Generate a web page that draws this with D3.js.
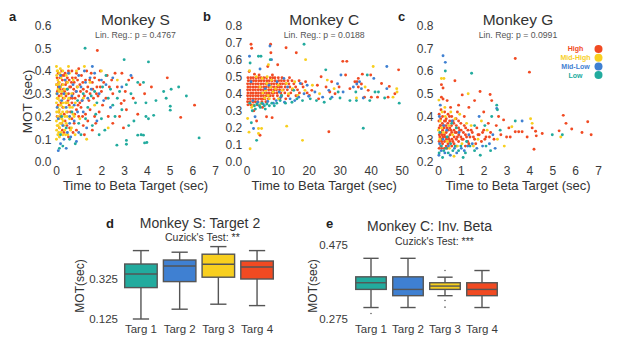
<!DOCTYPE html>
<html>
<head>
<meta charset="utf-8">
<script src="https://cdn.jsdelivr.net/npm/d3@7"></script>
<style>
  body { margin: 0; background: #fff; }
  svg { display: block; font-family: "Liberation Sans", Arial, sans-serif; }
  .tick text { fill: #3a3a3a; }
</style>
</head>
<body>
<div id="chart"></div>
<script>
// category colours (High / Mid-High / Mid-Low / Low beta)
const levels = ["High", "Mid-High", "Mid-Low", "Low"];
const levelColors = ["#f14a22", "#f8cf1f", "#3f80d2", "#22ab9e"];

// ---- panel a: Monkey S, [time to beta target, MOT] ----
const sHigh = [[0.05,0.37],[0.12,0.35],[0.2,0.33],[0.28,0.36],[0.35,0.38],[0.42,0.34],[0.5,0.32],[0.58,0.36],[0.65,0.33],[0.72,0.37],[0.8,0.35],[0.88,0.31],[0.95,0.36],[1.05,0.34],[1.12,0.38],[1.2,0.32],[1.3,0.36],[1.4,0.33],[1.5,0.3],[1.6,0.35],[1.7,0.37],[1.8,0.33],[1.9,0.36],[2.0,0.31],[2.1,0.35],[2.25,0.38],[2.35,0.33],[0.06,0.31],[0.14,0.29],[0.24,0.3],[0.33,0.32],[0.44,0.29],[0.55,0.3],[0.62,0.28],[0.75,0.3],[0.84,0.28],[1.0,0.29],[1.15,0.27],[1.25,0.29],[1.45,0.27],[1.65,0.28],[1.85,0.29],[0.1,0.39],[0.25,0.4],[0.4,0.39],[0.55,0.4],[0.7,0.4],[0.9,0.39],[1.0,0.41],[1.35,0.4],[1.55,0.39],[0.03,0.34],[0.18,0.37],[0.5,0.37],[0.1,0.25],[0.3,0.24],[0.5,0.22],[0.7,0.26],[0.9,0.23],[1.1,0.24],[1.3,0.21],[1.5,0.23],[1.7,0.2],[1.9,0.22],[0.2,0.2],[0.4,0.18],[0.6,0.15],[0.8,0.17],[1.0,0.2],[1.2,0.16],[1.4,0.18],[1.6,0.14],[0.15,0.15],[0.35,0.13],[0.55,0.11],[0.9,0.14],[1.25,0.12],[0.05,0.2],[0.25,0.17],[0.7,0.19],[1.05,0.26],[1.75,0.17],[2.05,0.25],[2.3,0.2],[2.5,0.17],[1.82,0.49],[4.9,0.37],[6.1,0.25],[5.49,0.196],[2.87,0.257],[3.0,0.27],[2.97,0.15],[3.2,0.36],[3.35,0.37],[2.6,0.39],[2.7,0.33],[3.6,0.21],[3.9,0.30],[2.5,0.3],[2.8,0.2],[3.1,0.23],[3.4,0.28],[2.45,0.36],[2.2,0.28],[1.95,0.4],[2.9,0.39],[3.7,0.34],[4.2,0.33],[3.05,0.31],
  [0.08,0.28],[0.18,0.32],[0.27,0.34],[0.32,0.28],[0.38,0.31],[0.47,0.35],[0.53,0.27],[0.6,0.33],[0.68,0.35],[0.78,0.32],[0.86,0.37],[0.93,0.33],[1.08,0.31],[1.18,0.35],[0.13,0.22],[0.22,0.26],[0.36,0.21],[0.45,0.26],[0.64,0.22],[0.82,0.21],[0.97,0.25],[1.17,0.2],[0.28,0.14],[0.48,0.16],[0.75,0.13],[0.1,0.33],[0.4,0.36],[0.72,0.28],[1.35,0.31],[1.62,0.32],[1.48,0.36],[1.78,0.3],[1.95,0.33],[0.58,0.25],[0.26,0.38]];
const sMidHigh = [[0.02,0.1],[0.03,0.14],[0.02,0.18],[0.03,0.22],[0.02,0.26],[0.03,0.3],[0.02,0.34],[0.03,0.38],[0.02,0.42],[0.08,0.12],[0.09,0.16],[0.08,0.2],[0.07,0.24],[0.08,0.28],[0.09,0.32],[0.08,0.36],[0.07,0.4],[0.15,0.11],[0.16,0.15],[0.14,0.19],[0.15,0.23],[0.16,0.27],[0.14,0.31],[0.15,0.35],[0.16,0.39],[0.22,0.13],[0.23,0.17],[0.21,0.21],[0.22,0.25],[0.23,0.29],[0.21,0.33],[0.22,0.37],[0.3,0.12],[0.31,0.18],[0.29,0.22],[0.3,0.26],[0.31,0.34],[0.3,0.4],[0.38,0.14],[0.39,0.2],[0.37,0.28],[0.38,0.32],[0.45,0.17],[0.46,0.22],[0.44,0.3],[0.45,0.38],[0.52,0.12],[0.53,0.26],[0.51,0.35],[0.6,0.19],[0.61,0.24],[0.59,0.39],[0.68,0.15],[0.69,0.3],[0.75,0.21],[0.76,0.36],[0.85,0.26],[0.84,0.12],[0.95,0.33],[1.05,0.19],[1.2,0.28],[1.25,0.42],[1.35,0.1],[1.5,0.35],[1.7,0.25],[2.0,0.4],[2.7,0.36],[2.3,0.15],[0.55,0.42],[0.9,0.4],
  [0.05,0.16],[0.05,0.28],[0.11,0.22],[0.11,0.34],[0.18,0.17],[0.18,0.25],[0.26,0.19],[0.26,0.31],[0.34,0.24],[0.34,0.16],[0.42,0.26],[0.42,0.12],[0.49,0.2],[0.56,0.28],[0.64,0.14],[0.72,0.24],[0.8,0.2],[0.05,0.4],[0.12,0.13],[0.19,0.41]];
const sMidLow = [[0.1,0.05],[0.2,0.08],[0.35,0.1],[0.5,0.13],[0.3,0.16],[0.1,0.19],[0.6,0.2],[0.8,0.18],[0.45,0.24],[0.25,0.27],[0.7,0.29],[0.9,0.31],[1.1,0.33],[1.3,0.35],[1.5,0.37],[1.7,0.39],[1.6,0.42],[0.4,0.36],[0.15,0.33],[0.55,0.39],[1.0,0.38],[0.8,0.25],[1.2,0.22],[1.4,0.28],[1.9,0.3],[2.2,0.34],[2.5,0.37],[2.1,0.27],[1.8,0.18],[1.0,0.13],[0.65,0.11],[1.35,0.15],[0.05,0.24],[0.05,0.3],[0.2,0.38],[0.95,0.22],[1.55,0.32],[2.4,0.24],[1.15,0.27],[0.35,0.3],[0.75,0.34],[0.6,0.17],[2.9,0.33],[0.9,0.09],[0.45,0.06],[1.25,0.4],[2.0,0.36],[3.3,0.38]];
const sLow = [[1.28,0.50],[3.0,0.45],[4.07,0.44],[5.07,0.32],[5.4,0.33],[5.74,0.29],[6.3,0.106],[5.03,0.245],[5.03,0.228],[4.74,0.31],[4.85,0.28],[4.4,0.27],[3.96,0.26],[4.07,0.19],[3.96,0.2],[4.3,0.205],[3.6,0.118],[3.75,0.12],[3.85,0.118],[3.9,0.084],[4.0,0.086],[3.1,0.095],[3.1,0.078],[2.68,0.074],[3.85,0.35],[3.6,0.35],[3.43,0.18],[2.2,0.38],[2.05,0.33],[1.7,0.31],[1.55,0.29],[1.8,0.26],[2.3,0.28],[2.5,0.25],[2.4,0.32],[2.8,0.31],[3.1,0.34],[3.3,0.3],[2.6,0.2],[2.9,0.23],[2.15,0.14],[1.9,0.12],[1.6,0.16],[1.3,0.19],[1.1,0.12],[0.85,0.08],[0.6,0.1],[0.3,0.07],[0.15,0.06],[0.2,0.12],[0.45,0.15],[0.7,0.22],[0.95,0.27],[1.2,0.3],[1.4,0.24],[0.25,0.2],[0.5,0.32],[1.0,0.17],[1.75,0.21],[2.0,0.19],[3.2,0.16],[2.7,0.28],[3.5,0.26]];

// ---- panel b: Monkey C ----
// dense red band, one row per MOT value: [MOT, times]
const cHighRows = [
  [0.494, [0.4,1.3,2.1,3.0,3.8,4.6,5.5,6.4,7.6,8.4,9.1,10.2,11.4,13.8]],
  [0.476, [0.5,1.3,2.2,3.0,3.9,4.7,5.6,6.5,7.3,8.2,9.2,10.3,11.2,12.1,13.3,14.6,16.9]],
  [0.458, [0.3,1.2,2.0,2.9,3.7,4.6,5.4,6.3,7.1,8.0,8.8,9.7,10.8,11.6,12.5,13.6,15.2,17.8]],
  [0.440, [0.4,1.2,2.1,2.9,3.8,4.6,5.5,6.3,7.2,8.0,8.9,9.9,10.6,11.2,12.4,13.9,15.8,18.2]],
  [0.423, [0.3,1.1,2.0,2.8,3.7,4.5,5.4,6.2,7.1,7.9,8.8,9.6,10.6,11.8,13.1,14.7,16.4]],
  [0.405, [0.4,1.3,2.1,3.0,3.8,4.7,5.5,6.4,7.2,8.1,8.9,9.8,11.0,12.3,14.2,17.0,19.5]],
  [0.388, [0.3,1.2,2.0,2.9,3.7,4.6,5.4,6.3,7.0,7.6,8.5,9.9,11.3,13.4,15.9]],
  [0.370, [0.4,1.2,2.1,2.9,3.8,4.6,5.3,5.9,7.0,8.8,10.7,12.6]],
  [0.353, [0.3,1.1,2.0,2.8,3.6,4.9,6.2]],
  [0.335, [0.4,1.3,2.2,3.4]]
];
const cHighSparse = [[1.4,0.69],[1.6,0.667],[7.7,0.69],[7.8,0.64],[12.7,0.67],[16,0.64],[10,0.57],[6.8,0.56],[31,0.59],[32.3,0.59],[49,0.54],[31.9,0.51],[36,0.49],[37.3,0.515],[40,0.51],[34.9,0.47],[35.6,0.47],[37,0.457],[29.8,0.44],[36,0.44],[46,0.443],[33.3,0.43],[38,0.38],[40.2,0.38],[42.2,0.38],[45.6,0.38],[3.2,0.24],[4.3,0.157],[6.4,0.265],[8.2,0.26],[26.5,0.177],[0.8,0.53],[2.5,0.515],[4.0,0.51],[8.3,0.51],[19,0.47],[21,0.42],[22.8,0.45],[24,0.5],[25.6,0.44],[27.4,0.47],[28.5,0.4],[20.2,0.39],[23.2,0.37],[26.8,0.41],[43.5,0.46],[47.8,0.4],[39.2,0.42],[2.3,0.3],[5.1,0.32]];
const cMidHigh = [[5.2,0.405],[6.1,0.42],[6.9,0.39],[7.7,0.44],[8.5,0.41],[5.8,0.375],[7.3,0.37],[9.3,0.43],[6.5,0.46],[8.0,0.48],[10.2,0.45],[11.5,0.42],[12.8,0.46],[13.5,0.4],[14.8,0.43],[4.3,0.44],[3.1,0.5],[5.0,0.49],[6.6,0.5],[0.9,0.535],[7.0,0.57],[19,0.6],[10.3,0.37],[15.5,0.47],[16.5,0.39],[18.8,0.42],[21.2,0.45],[23.5,0.4],[26,0.48],[28.2,0.43],[35.4,0.375],[38.2,0.44],[40.8,0.56],[47.2,0.38],[48.4,0.43],[48.5,0.41],[0.3,0.255],[0.75,0.175],[3.8,0.196],[4.8,0.196],[3.8,0.167],[12.9,0.21],[18,0.127],[1.1,0.078],[2.0,0.33],[4.5,0.34],[1.6,0.32]];
const cMidLow = [[0.9,0.62],[8.0,0.60],[4.3,0.545],[7.5,0.68],[2.2,0.196],[2.7,0.265],[2.0,0.36],[3.6,0.35],[5.3,0.34],[6.8,0.355],[8.6,0.345],[9.5,0.36],[11.0,0.38],[12.2,0.35],[14.0,0.37],[15.5,0.36],[16.8,0.38],[18.5,0.4],[20,0.385],[22,0.41],[24.5,0.38],[26.5,0.42],[29.3,0.459],[30.4,0.51],[31.1,0.41],[34.4,0.44],[35.5,0.457],[36.4,0.47],[37,0.43],[37.6,0.375],[41,0.49],[45.2,0.43],[45.2,0.56],[7.2,0.45],[9.8,0.47],[13.2,0.44],[17.3,0.46],[10.5,0.41],[6.0,0.43],[12.0,0.49],[1.4,0.47],[19.5,0.45],[27.5,0.38]];
const cLow = [[3.8,0.62],[4.6,0.62],[1.1,0.58],[18.5,0.69],[25.5,0.54],[37.6,0.198],[3.2,0.127],[1.5,0.23],[1.0,0.345],[2.5,0.33],[3.3,0.34],[4.1,0.33],[4.9,0.345],[5.7,0.33],[6.5,0.34],[7.3,0.33],[8.1,0.345],[8.9,0.33],[9.7,0.345],[10.8,0.36],[12.5,0.345],[14.6,0.35],[16.2,0.37],[18.0,0.36],[20.5,0.37],[22.5,0.36],[25,0.35],[27,0.37],[29.5,0.41],[30.1,0.375],[33.3,0.36],[35.2,0.41],[35.4,0.36],[38.9,0.51],[39.7,0.36],[41.4,0.41],[42.5,0.41],[44.5,0.375],[49.2,0.345],[2.8,0.31],[4.4,0.32],[6.0,0.31],[1.8,0.3],[7.6,0.6],[15.2,0.42],[11.2,0.39]];

// ---- panel c: Monkey G ----
const gHigh = [[0.05,0.26],[0.05,0.29],[0.06,0.32],[0.05,0.35],[0.04,0.38],[0.05,0.41],[0.12,0.27],[0.13,0.3],[0.12,0.33],[0.11,0.36],[0.12,0.39],[0.13,0.43],[0.2,0.28],[0.21,0.31],[0.2,0.34],[0.19,0.37],[0.2,0.4],[0.28,0.26],[0.29,0.29],[0.28,0.32],[0.27,0.35],[0.28,0.38],[0.29,0.42],[0.36,0.27],[0.37,0.3],[0.36,0.33],[0.35,0.36],[0.36,0.39],[0.44,0.28],[0.45,0.31],[0.44,0.34],[0.43,0.37],[0.44,0.41],[0.52,0.29],[0.53,0.32],[0.52,0.35],[0.51,0.38],[0.6,0.27],[0.61,0.3],[0.6,0.33],[0.59,0.36],[0.6,0.4],[0.7,0.28],[0.71,0.31],[0.7,0.34],[0.69,0.37],[0.8,0.3],[0.81,0.33],[0.8,0.36],[0.79,0.39],[0.9,0.29],[0.91,0.32],[0.9,0.35],[1.0,0.31],[1.01,0.34],[1.0,0.37],[1.1,0.3],[1.11,0.33],[1.2,0.32],[1.21,0.35],[1.3,0.29],[1.31,0.34],[1.4,0.31],[1.5,0.33],[1.6,0.3],[1.7,0.35],[1.8,0.32],[1.9,0.29],[2.0,0.34],[2.1,0.31],[2.2,0.37],[2.3,0.33],[2.45,0.3],[0.85,0.42],[1.15,0.4],[0.55,0.44],[0.74,0.557],[0.15,0.54],[0.22,0.525],[3.38,0.655],[4.0,0.595],[1.06,0.495],[1.84,0.51],[2.28,0.497],[0.15,0.485],[0.22,0.477],[2.35,0.47],[5.48,0.405],[5.6,0.37],[6.55,0.377],[5.85,0.345],[5.3,0.337],[6.3,0.33],[6.7,0.32],[4.56,0.325],[4.27,0.335],[4.12,0.35],[4.3,0.315],[4.2,0.256],[3.9,0.31],[3.38,0.333],[3.53,0.333],[3.68,0.333],[3.16,0.31],[3.0,0.31],[3.1,0.35],[2.87,0.385],[2.65,0.4],[1.6,0.47],[0.4,0.47],[0.9,0.45],[1.35,0.44],[2.0,0.42],[2.55,0.36],[2.75,0.32],
  [0.08,0.31],[0.16,0.29],[0.24,0.36],[0.32,0.31],[0.4,0.35],[0.48,0.3],[0.56,0.34],[0.65,0.29],[0.75,0.33],[0.85,0.31],[0.95,0.34],[1.05,0.3],[1.15,0.36],[1.25,0.31],[1.35,0.28],[1.45,0.34],[1.55,0.31],[1.65,0.28],[1.75,0.32],[1.95,0.33],[2.05,0.3],[2.25,0.31],[0.1,0.36],[0.18,0.32],[0.33,0.38],[0.5,0.4],[0.66,0.38],[0.9,0.38],[0.16,0.26],[0.4,0.26],[0.8,0.27],[1.2,0.27]];
const gMidHigh = [[0.15,0.567],[0.26,0.567],[1.32,0.5],[0.04,0.472],[3.23,0.355],[4.05,0.39],[4.12,0.37],[5.37,0.31],[0.08,0.3],[0.16,0.35],[0.24,0.33],[0.32,0.4],[0.4,0.29],[0.48,0.36],[0.56,0.42],[0.64,0.32],[0.75,0.39],[0.85,0.27],[0.95,0.41],[1.05,0.28],[1.25,0.37],[1.45,0.36],[1.75,0.3],[2.15,0.34],[2.6,0.3],[0.1,0.38],[0.3,0.44],[0.7,0.225],[0.5,0.26],[1.55,0.27],[0.02,0.34],[0.18,0.42],[2.9,0.27],[1.9,0.38]];
const gMidLow = [[0.22,0.667],[0.32,0.638],[2.57,0.435],[3.68,0.38],[0.07,0.28],[0.14,0.25],[0.22,0.3],[0.3,0.24],[0.38,0.34],[0.46,0.27],[0.54,0.23],[0.62,0.38],[0.72,0.26],[0.82,0.24],[0.92,0.33],[1.02,0.26],[1.15,0.25],[1.3,0.27],[1.5,0.28],[1.7,0.26],[1.95,0.27],[2.25,0.28],[2.5,0.26],[0.06,0.4],[0.25,0.36],[1.35,0.32],[0.04,0.23],[0.1,0.45],[1.8,0.4],[2.4,0.32]];
const gLow = [[0.32,0.6],[1.47,0.59],[2.57,0.45],[2.6,0.43],[5.0,0.32],[5.44,0.32],[3.38,0.38],[2.72,0.34],[0.05,0.24],[0.15,0.27],[0.25,0.25],[0.35,0.26],[0.45,0.24],[0.55,0.28],[0.65,0.25],[0.75,0.27],[0.9,0.25],[1.0,0.27],[1.2,0.24],[1.4,0.27],[1.6,0.25],[1.85,0.23],[2.1,0.27],[2.3,0.25],[0.4,0.31],[0.8,0.35],[1.25,0.29],[0.08,0.33],[0.6,0.37],[1.6,0.36],[2.05,0.36],[2.35,0.4],[0.2,0.22],[1.1,0.22]];

// ---- panels d, e: box plots by target ----
const targets = ["Targ 1", "Targ 2", "Targ 3", "Targ 4"];
const boxColors = ["#22ab9e", "#3f80d2", "#f8cf1f", "#f14a22"];
const dLo  = [0.125, 0.174, 0.199, 0.192];
const dQ1  = [0.282, 0.312, 0.334, 0.325];
const dMed = [0.350, 0.390, 0.399, 0.385];
const dQ3  = [0.400, 0.420, 0.449, 0.415];
const dHi  = [0.467, 0.459, 0.487, 0.467];
const eLo  = [0.306, 0.306, 0.338, 0.306];
const eQ1  = [0.355, 0.338, 0.355, 0.338];
const eMed = [0.373, 0.355, 0.364, 0.355];
const eQ3  = [0.389, 0.389, 0.373, 0.373];
const eHi  = [0.439, 0.439, 0.388, 0.406];
const eOutliers = [[0, 0.290], [2, 0.406], [2, 0.325], [2, 0.307]];

const svg = d3.select("#chart").append("svg")
  .attr("width", 617).attr("height", 352);
svg.append("rect").attr("width", 617).attr("height", 352).attr("fill", "#fff");

function scatterPanel(cfg) {
  const x = d3.scaleLinear().domain(cfg.xDomain).range(cfg.xRange);
  const y = d3.scaleLinear().domain(cfg.yDomain).range([162, 25.5]);

  const xa = svg.append("g").attr("transform", `translate(0,${y.range()[0]})`)
    .call(d3.axisBottom(x).tickValues(cfg.xTicks).tickSize(0).tickPadding(4.5).tickFormat(d3.format("d")));
  const ya = svg.append("g").attr("transform", `translate(${x.range()[0]},0)`)
    .call(d3.axisLeft(y).tickValues(cfg.yTicks).tickSize(0).tickPadding(4.5).tickFormat(d3.format(".1f")));
  [xa, ya].forEach(a => {
    a.select(".domain").remove();
    a.selectAll("text").attr("font-size", 12).attr("font-family", null);
  });

  // red first, the other categories on top
  cfg.series.forEach((pts, i) => {
    svg.append("g").selectAll("circle").data(pts).join("circle")
      .attr("cx", d => x(d[0]))
      .attr("cy", d => y(d[1]))
      .attr("r", 1.45)
      .attr("fill", levelColors[i]);
  });

  const cx = (x.range()[0] + x.range()[1]) / 2;
  svg.append("text").attr("x", cx).attr("y", 25).attr("text-anchor", "middle")
    .attr("font-size", 15.5).attr("fill", "#333").text(cfg.title);
  svg.append("text").attr("x", cx).attr("y", 37.5).attr("text-anchor", "middle")
    .attr("font-size", 8.7).attr("fill", "#555").text(cfg.stat);
  svg.append("text").attr("x", cx).attr("y", 190).attr("text-anchor", "middle")
    .attr("font-size", 13).attr("fill", "#333").text("Time to Beta Target (sec)");
  svg.append("text").attr("x", cfg.letterX).attr("y", 21)
    .attr("font-size", 13).attr("font-weight", "bold").attr("fill", "#222").text(cfg.letter);
}

scatterPanel({
  xDomain: [0, 7], xRange: [56, 215], yDomain: [0, 0.6],
  xTicks: d3.range(0, 8), yTicks: [0, 0.1, 0.2, 0.3, 0.4, 0.5, 0.6],
  series: [sHigh, sMidHigh, sMidLow, sLow],
  title: "Monkey S", stat: "Lin. Reg.: p = 0.4767", letter: "a", letterX: 9
});
scatterPanel({
  xDomain: [0, 50], xRange: [246.7, 401.7], yDomain: [0, 0.8],
  xTicks: [0, 10, 20, 30, 40, 50], yTicks: [0, 0.1, 0.2, 0.3, 0.4, 0.5, 0.6, 0.7, 0.8],
  series: [cHighRows.flatMap(([m, ts]) => ts.map(t => [t, m])).concat(cHighSparse), cMidHigh, cMidLow, cLow],
  title: "Monkey C", stat: "Lin. Reg.: p = 0.0188", letter: "b", letterX: 203
});
scatterPanel({
  xDomain: [0, 7], xRange: [438, 598], yDomain: [0.2, 0.8],
  xTicks: d3.range(0, 8), yTicks: [0.2, 0.3, 0.4, 0.5, 0.6, 0.7, 0.8],
  series: [gHigh, gMidHigh, gMidLow, gLow],
  title: "Monkey G", stat: "Lin. Reg: p = 0.0991", letter: "c", letterX: 398
});

// y label for panel a
svg.append("text").attr("transform", "translate(32,101.5) rotate(-90)")
  .attr("text-anchor", "middle").attr("font-size", 13.5).attr("fill", "#333").text("MOT (sec)");

// legend in panel c
const legend = svg.append("g").selectAll("g").data(levels).join("g")
  .attr("transform", (d, i) => `translate(0,${49 + i * 8.7})`);
legend.append("text").attr("x", 575.5).attr("dy", "0.35em").attr("text-anchor", "middle")
  .attr("font-size", 7).attr("font-weight", "bold").attr("fill", (d, i) => levelColors[i]).text(d => d);
legend.append("circle").attr("cx", 598.5).attr("r", 4).attr("fill", (d, i) => levelColors[i]);

function boxPanel(cfg) {
  const x = d3.scaleBand().domain(targets).range(cfg.xRange)
    .paddingInner(cfg.padIn).paddingOuter(cfg.padIn / 2);
  const y = d3.scaleLinear().domain(cfg.yDomain).range(cfg.yRange);

  const ya = svg.append("g").attr("transform", `translate(${cfg.axisX},0)`)
    .call(d3.axisLeft(y).tickValues(cfg.yDomain).tickSize(0).tickPadding(4).tickFormat(d3.format(".3f")));
  const xa = svg.append("g").attr("transform", "translate(0,322)")
    .call(d3.axisBottom(x).tickSize(0).tickPadding(2.5));
  [xa, ya].forEach(a => {
    a.select(".domain").remove();
    a.selectAll("text").attr("font-size", cfg.fontSize).attr("font-family", null);
  });

  const bw = x.bandwidth();
  const g = svg.append("g").selectAll("g").data(targets).join("g")
    .attr("transform", d => `translate(${x(d)},0)`);
  const stroke = "#555";
  g.append("line").attr("x1", bw / 2).attr("x2", bw / 2)
    .attr("y1", (d, i) => y(cfg.lo[i])).attr("y2", (d, i) => y(cfg.hi[i]))
    .attr("stroke", stroke).attr("stroke-width", 1.4);
  g.selectAll(".cap").data((d, i) => [cfg.lo[i], cfg.hi[i]]).join("line")
    .attr("x1", bw / 4).attr("x2", bw * 3 / 4)
    .attr("y1", v => y(v)).attr("y2", v => y(v))
    .attr("stroke", stroke).attr("stroke-width", 1.4);
  g.append("rect").attr("x", 0).attr("width", bw)
    .attr("y", (d, i) => y(cfg.q3[i]))
    .attr("height", (d, i) => y(cfg.q1[i]) - y(cfg.q3[i]))
    .attr("fill", (d, i) => boxColors[i])
    .attr("stroke", stroke).attr("stroke-width", 1.4);
  g.append("line").attr("x1", 0).attr("x2", bw)
    .attr("y1", (d, i) => y(cfg.med[i])).attr("y2", (d, i) => y(cfg.med[i]))
    .attr("stroke", stroke).attr("stroke-width", 1.4);

  svg.append("g").selectAll("circle").data(cfg.outliers || []).join("circle")
    .attr("cx", d => x(targets[d[0]]) + bw / 2).attr("cy", d => y(d[1]))
    .attr("r", 0.8).attr("fill", "#666");

  svg.append("text").attr("x", cfg.titleX).attr("y", cfg.titleY).attr("text-anchor", "middle")
    .attr("font-size", 14).attr("fill", "#333").text(cfg.title);
  svg.append("text").attr("x", cfg.testX).attr("y", cfg.testY)
    .attr("font-size", 10.5).attr("fill", "#333").text(cfg.test);
  svg.append("text").attr("x", cfg.letterX).attr("y", 228)
    .attr("font-size", 13).attr("font-weight", "bold").attr("fill", "#222").text(cfg.letter);
  svg.append("text").attr("transform", `translate(${cfg.labelX},286) rotate(-90)`)
    .attr("text-anchor", "middle").attr("font-size", 12).attr("fill", "#333").text("MOT(sec)");
}

boxPanel({
  xRange: [121.6, 276.4], padIn: 0.16, yDomain: [0.125, 0.325], yRange: [319, 279], axisX: 122,
  lo: dLo, q1: dQ1, med: dMed, q3: dQ3, hi: dHi, fontSize: 11.5,
  title: "Monkey S: Target 2", titleX: 200, titleY: 228,
  test: "Cuzick's Test:  **", testX: 165, testY: 241,
  letter: "d", letterX: 106, labelX: 84
});
boxPanel({
  xRange: [352.5, 500.5], padIn: 0.175, yDomain: [0.275, 0.475], yRange: [319, 245], axisX: 352,
  lo: eLo, q1: eQ1, med: eMed, q3: eQ3, hi: eHi, outliers: eOutliers, fontSize: 11.5,
  title: "Monkey C: Inv. Beta", titleX: 429.5, titleY: 230.5,
  test: "Cuzick's Test: ***", testX: 395, testY: 245,
  letter: "e", letterX: 326, labelX: 317
});
</script>
</body>
</html>
